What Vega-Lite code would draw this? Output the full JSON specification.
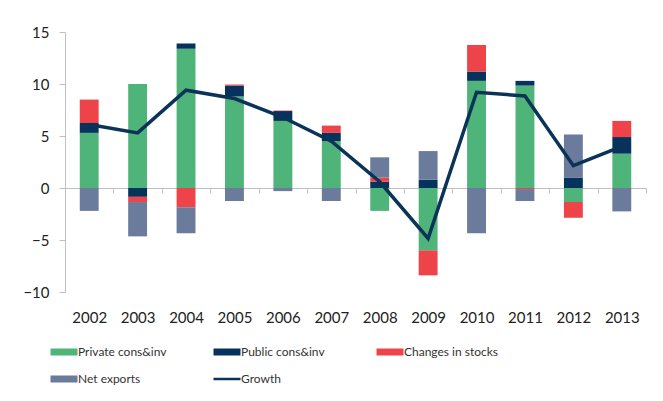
{
  "$schema": "https://vega.github.io/schema/vega-lite/v6.json",
  "width": 581,
  "height": 260,
  "autosize": {"type": "none"},
  "padding": {"left": 65, "top": 32, "right": 17, "bottom": 109},
  "background": "white",
  "config": {"view": {"stroke": null}, "font": "Lato"},
  "datasets": {
    "gdp": [
      {"year": "2002", "component": "Private cons&inv", "value": 5.3, "order": 1},
      {"year": "2002", "component": "Public cons&inv", "value": 0.95, "order": 2},
      {"year": "2002", "component": "Changes in stocks", "value": 2.25, "order": 3},
      {"year": "2002", "component": "Net exports", "value": -2.2, "order": 4},
      {"year": "2002", "component": "Growth", "value": 6.1, "order": 5},
      {"year": "2003", "component": "Private cons&inv", "value": 10.0, "order": 1},
      {"year": "2003", "component": "Public cons&inv", "value": -0.85, "order": 2},
      {"year": "2003", "component": "Changes in stocks", "value": -0.5, "order": 3},
      {"year": "2003", "component": "Net exports", "value": -3.3, "order": 4},
      {"year": "2003", "component": "Growth", "value": 5.3, "order": 5},
      {"year": "2004", "component": "Private cons&inv", "value": 13.4, "order": 1},
      {"year": "2004", "component": "Public cons&inv", "value": 0.5, "order": 2},
      {"year": "2004", "component": "Changes in stocks", "value": -1.85, "order": 3},
      {"year": "2004", "component": "Net exports", "value": -2.5, "order": 4},
      {"year": "2004", "component": "Growth", "value": 9.4, "order": 5},
      {"year": "2005", "component": "Private cons&inv", "value": 8.8, "order": 1},
      {"year": "2005", "component": "Public cons&inv", "value": 1.05, "order": 2},
      {"year": "2005", "component": "Changes in stocks", "value": 0.1, "order": 3},
      {"year": "2005", "component": "Net exports", "value": -1.25, "order": 4},
      {"year": "2005", "component": "Growth", "value": 8.6, "order": 5},
      {"year": "2006", "component": "Private cons&inv", "value": 6.45, "order": 1},
      {"year": "2006", "component": "Public cons&inv", "value": 0.95, "order": 2},
      {"year": "2006", "component": "Changes in stocks", "value": 0.05, "order": 3},
      {"year": "2006", "component": "Net exports", "value": -0.3, "order": 4},
      {"year": "2006", "component": "Growth", "value": 6.8, "order": 5},
      {"year": "2007", "component": "Private cons&inv", "value": 4.5, "order": 1},
      {"year": "2007", "component": "Public cons&inv", "value": 0.8, "order": 2},
      {"year": "2007", "component": "Changes in stocks", "value": 0.7, "order": 3},
      {"year": "2007", "component": "Net exports", "value": -1.25, "order": 4},
      {"year": "2007", "component": "Growth", "value": 4.5, "order": 5},
      {"year": "2008", "component": "Private cons&inv", "value": -2.2, "order": 1},
      {"year": "2008", "component": "Public cons&inv", "value": 0.6, "order": 2},
      {"year": "2008", "component": "Changes in stocks", "value": 0.4, "order": 3},
      {"year": "2008", "component": "Net exports", "value": 1.95, "order": 4},
      {"year": "2008", "component": "Growth", "value": 0.6, "order": 5},
      {"year": "2009", "component": "Private cons&inv", "value": -6.0, "order": 1},
      {"year": "2009", "component": "Public cons&inv", "value": 0.8, "order": 2},
      {"year": "2009", "component": "Changes in stocks", "value": -2.4, "order": 3},
      {"year": "2009", "component": "Net exports", "value": 2.75, "order": 4},
      {"year": "2009", "component": "Growth", "value": -4.85, "order": 5},
      {"year": "2010", "component": "Private cons&inv", "value": 10.3, "order": 1},
      {"year": "2010", "component": "Public cons&inv", "value": 0.9, "order": 2},
      {"year": "2010", "component": "Changes in stocks", "value": 2.55, "order": 3},
      {"year": "2010", "component": "Net exports", "value": -4.35, "order": 4},
      {"year": "2010", "component": "Growth", "value": 9.2, "order": 5},
      {"year": "2011", "component": "Private cons&inv", "value": 9.85, "order": 1},
      {"year": "2011", "component": "Public cons&inv", "value": 0.45, "order": 2},
      {"year": "2011", "component": "Changes in stocks", "value": -0.1, "order": 3},
      {"year": "2011", "component": "Net exports", "value": -1.15, "order": 4},
      {"year": "2011", "component": "Growth", "value": 8.85, "order": 5},
      {"year": "2012", "component": "Private cons&inv", "value": -1.35, "order": 1},
      {"year": "2012", "component": "Public cons&inv", "value": 1.0, "order": 2},
      {"year": "2012", "component": "Changes in stocks", "value": -1.5, "order": 3},
      {"year": "2012", "component": "Net exports", "value": 4.15, "order": 4},
      {"year": "2012", "component": "Growth", "value": 2.15, "order": 5},
      {"year": "2013", "component": "Private cons&inv", "value": 3.3, "order": 1},
      {"year": "2013", "component": "Public cons&inv", "value": 1.6, "order": 2},
      {"year": "2013", "component": "Changes in stocks", "value": 1.55, "order": 3},
      {"year": "2013", "component": "Net exports", "value": -2.25, "order": 4},
      {"year": "2013", "component": "Growth", "value": 4.0, "order": 5}
    ]
  },
  "data": {"name": "gdp"},
  "layer": [
    {
      "transform": [{"filter": "datum.component !== 'Growth'"}],
      "mark": {"type": "bar", "width": {"band": 0.39}},
      "encoding": {
        "x": {
          "field": "year", "type": "ordinal",
          "scale": {"paddingInner": 0, "paddingOuter": 0},
          "axis": {
            "orient": "bottom", "offset": -104, "title": null, "labelAngle": 0,
            "domainColor": "#c0c0c0", "tickColor": "#c0c0c0", "tickSize": 5,
            "tickBand": "extent", "labelPadding": 117,
            "labelFont": "Lato", "labelFontSize": 15, "labelColor": "#222222"
          }
        },
        "y": {
          "field": "value", "type": "quantitative", "stack": "zero",
          "scale": {"domain": [-10, 15], "nice": false},
          "axis": {
            "title": null, "values": [-10, -5, 0, 5, 10, 15], "grid": false,
            "domainColor": "#c0c0c0", "tickColor": "#c0c0c0", "tickSize": 6,
            "labelPadding": 10, "labelFont": "Lato", "labelFontSize": 15, "labelColor": "#222222"
          }
        },
        "color": {
          "field": "component", "type": "nominal",
          "scale": {
            "domain": ["Private cons&inv", "Public cons&inv", "Changes in stocks", "Net exports", "Growth"],
            "range": ["#4fb47a", "#06325e", "#ee4349", "#6b7b9b", "#0a3358"]
          },
          "legend": {
            "orient": "none", "direction": "horizontal", "legendX": -7, "legendY": 314, "columns": 3,
            "gridAlign": "all", "columnPadding": 26, "rowPadding": -1,
            "title": null, "symbolType": "stroke", "symbolSize": 729, "symbolStrokeWidth": 7,
            "labelOffset": 8, "labelFont": "Lato", "labelFontSize": 12, "labelColor": "#333333",
            "encode": {
              "symbols": {
                "update": {
                  "shape": {"value": "stroke"},
                  "stroke": {"scale": "color", "field": "value"},
                  "strokeWidth": {"signal": "datum.value === 'Growth' ? 2.5 : 7"},
                  "size": {"value": 729},
                  "fill": {"value": "transparent"}
                }
              }
            }
          }
        },
        "order": {"field": "order", "type": "quantitative"}
      }
    },
    {
      "transform": [{"filter": "datum.component === 'Growth'"}],
      "mark": {"type": "line", "strokeWidth": 3.5},
      "encoding": {
        "x": {"field": "year", "type": "ordinal"},
        "y": {"field": "value", "type": "quantitative"},
        "color": {"field": "component", "type": "nominal"}
      }
    }
  ]
}
